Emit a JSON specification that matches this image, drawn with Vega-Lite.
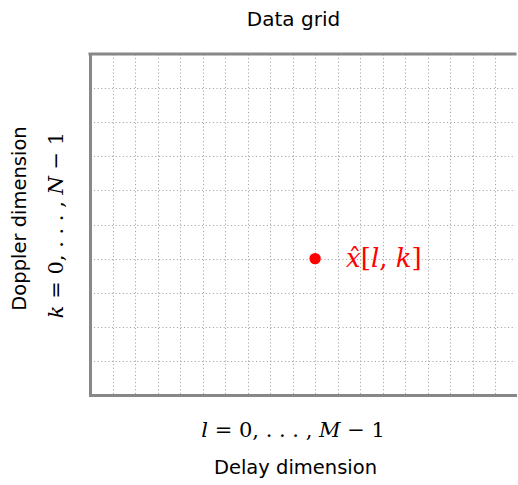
{
  "$schema": "https://vega.github.io/schema/vega-lite/v6.json",
  "width": 518,
  "height": 485,
  "autosize": {"type": "fit", "contains": "padding"},
  "padding": {"left": 9, "top": 9, "right": 0, "bottom": 8},
  "title": {
    "text": "Data grid",
    "font": "DejaVu Sans",
    "fontSize": 20,
    "fontWeight": "normal",
    "color": "#000000",
    "offset": 22,
    "dx": -9
  },
  "config": {"view": {"stroke": null}},
  "data": {"values": [{"l": 10, "k": 4, "label": "𝑥̂[𝑙, 𝑘]"}]},
  "layer": [
    {
      "mark": {"type": "point", "filled": true, "color": "#ff0000", "size": 130, "opacity": 1},
      "encoding": {
        "x": {
          "field": "l",
          "type": "quantitative",
          "scale": {"domain": [0, 18.88], "nice": false, "zero": false},
          "axis": {
            "values": [0, 1, 2, 3, 4, 5, 6, 7, 8, 9, 10, 11, 12, 13, 14, 15, 16, 17, 18],
            "tickCount": 100,
            "grid": true,
            "gridColor": "#9a9a9a",
            "gridDash": [1, 2.6],
            "gridWidth": 1,
            "ticks": false,
            "domain": true,
            "domainColor": "#888888",
            "domainWidth": 3,
            "domainCap": "square",
            "labelExpr": "datum.value == 9 ? '𝑙 = 0, . . . , 𝑀 − 1' : ''",
            "labelFont": "DejaVu Serif",
            "labelFontSize": 21,
            "labelColor": "#000000",
            "labelPadding": 24,
            "labelLimit": 0,
            "labelFlush": false,
            "labelOverlap": false,
            "title": "Delay dimension",
            "titleFont": "DejaVu Sans",
            "titleFontSize": 19.5,
            "titleFontWeight": "normal",
            "titleColor": "#000000",
            "titlePadding": 18,
            "titleX": 205
          }
        },
        "y": {
          "field": "k",
          "type": "quantitative",
          "scale": {"domain": [0, 10], "nice": false, "zero": false},
          "axis": {
            "values": [0, 1, 2, 3, 4, 5, 6, 7, 8, 9, 10],
            "tickCount": 100,
            "grid": true,
            "gridColor": "#9a9a9a",
            "gridDash": [1, 2.6],
            "gridWidth": 1,
            "ticks": false,
            "domain": true,
            "domainColor": "#888888",
            "domainWidth": 3,
            "domainCap": "square",
            "labelExpr": "datum.value == 5 ? '𝑘 = 0, . . . , 𝑁 − 1' : ''",
            "labelFont": "DejaVu Serif",
            "labelFontSize": 21,
            "labelColor": "#000000",
            "labelAngle": -90,
            "labelAlign": "center",
            "labelBaseline": "bottom",
            "labelPadding": 24,
            "labelLimit": 0,
            "labelFlush": false,
            "labelOverlap": false,
            "title": "Doppler dimension",
            "titleFont": "DejaVu Sans",
            "titleFontSize": 19.5,
            "titleFontWeight": "normal",
            "titleColor": "#000000",
            "titlePadding": 16,
            "titleY": 164
          }
        }
      }
    },
    {
      "mark": {
        "type": "text",
        "align": "left",
        "baseline": "middle",
        "dx": 31,
        "font": "DejaVu Serif",
        "fontSize": 26,
        "color": "#ff0000"
      },
      "encoding": {
        "x": {"field": "l", "type": "quantitative"},
        "y": {"field": "k", "type": "quantitative"},
        "text": {"field": "label"}
      }
    },
    {
      "mark": {"type": "rule", "color": "#888888", "strokeWidth": 3, "strokeCap": "square"},
      "encoding": {"y": {"datum": 10}}
    }
  ]
}
